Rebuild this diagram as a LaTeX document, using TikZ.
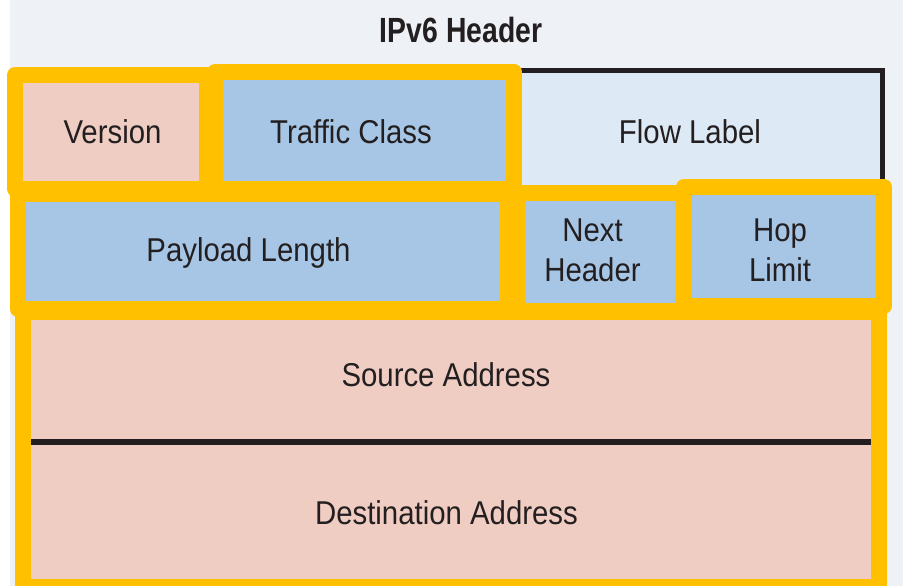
\documentclass[tikz,border=0pt]{standalone}
\usepackage{fontspec}
\setmainfont[FakeStretch=0.89]{Liberation Sans}
\newfontfamily\titlefont[FakeStretch=0.81]{Liberation Sans}

\definecolor{hdryellow}{HTML}{FFC000}
\definecolor{fieldpink}{HTML}{F0CDC3}
\definecolor{fieldblue}{HTML}{A7C6E6}
\definecolor{flowblue}{HTML}{DDE9F5}
\definecolor{panelgray}{HTML}{EEF2F6}
\definecolor{ink}{HTML}{231F20}

\tikzset{
  field/.style={rectangle, draw=hdryellow, line width=16pt, line join=round,
                inner sep=0pt, outer sep=0pt},
  lbl/.style={font=\fontsize{33}{40}\selectfont, text=ink, anchor=base,
              inner sep=0pt, align=center},
}

\begin{document}
\begin{tikzpicture}[x=1pt, y=-1pt]
  % canvas and panel
  \useasboundingbox (0,0) rectangle (903,586);
  \clip (0,0) rectangle (903,586);
  \fill[white] (0,0) rectangle (903,586);
  \fill[panelgray] (10,0) rectangle (903,586);

  % flow label field (partly hidden behind its neighbours)
  \node[rectangle, draw=ink, line width=5pt, fill=flowblue, inner sep=0pt,
        minimum width=482pt, minimum height=119pt] (flow) at (641,130.5) {};

  % address block
  \node[field, fill=fieldpink, minimum width=856pt, minimum height=275pt]
        (addr) at (451,449.5) {};
  \coordinate (divL) at (31,442);
  \coordinate (divR) at (871,442);
  \draw[ink, line width=6pt] (divL) -- (divR);

  % first row
  \node[field, fill=fieldpink, minimum width=192pt, minimum height=114pt]
        (ver) at (111,132) {};
  \node[field, fill=fieldblue, minimum width=299pt, minimum height=117pt]
        (tc) at (364.5,130.5) {};

  % second row
  \node[field, fill=fieldblue, minimum width=490pt, minimum height=115pt]
        (plen) at (263,251.5) {};
  \node[field, fill=fieldblue, minimum width=167pt, minimum height=118pt]
        (nh) at (600.5,252) {};
  \node[field, fill=fieldblue, minimum width=200pt, minimum height=119pt]
        (hop) at (784,246.5) {};

  % labels (two-line labels sit on the baseline of their last line)
  \node[text=ink, anchor=base, inner sep=0pt,
        font=\titlefont\bfseries\fontsize{35}{40}\selectfont]
        (title) at (461,43) {IPv6 Header};
  \node[lbl] (verT) at (112.5,143) {Version};
  \node[lbl] (tcT) at (351,143) {Traffic Class};
  \node[lbl] (flowT) at (690,143) {Flow Label};
  \node[lbl] (plenT) at (248.5,261) {Payload Length};
  \node[lbl] (nhT) at (592.5,281) {Next\\Header};
  \node[lbl] (hopT) at (780,281) {Hop\\Limit};
  \node[lbl] (srcT) at (446,386) {Source Address};
  \node[lbl] (dstT) at (446.5,524) {Destination Address};
\end{tikzpicture}
\end{document}
